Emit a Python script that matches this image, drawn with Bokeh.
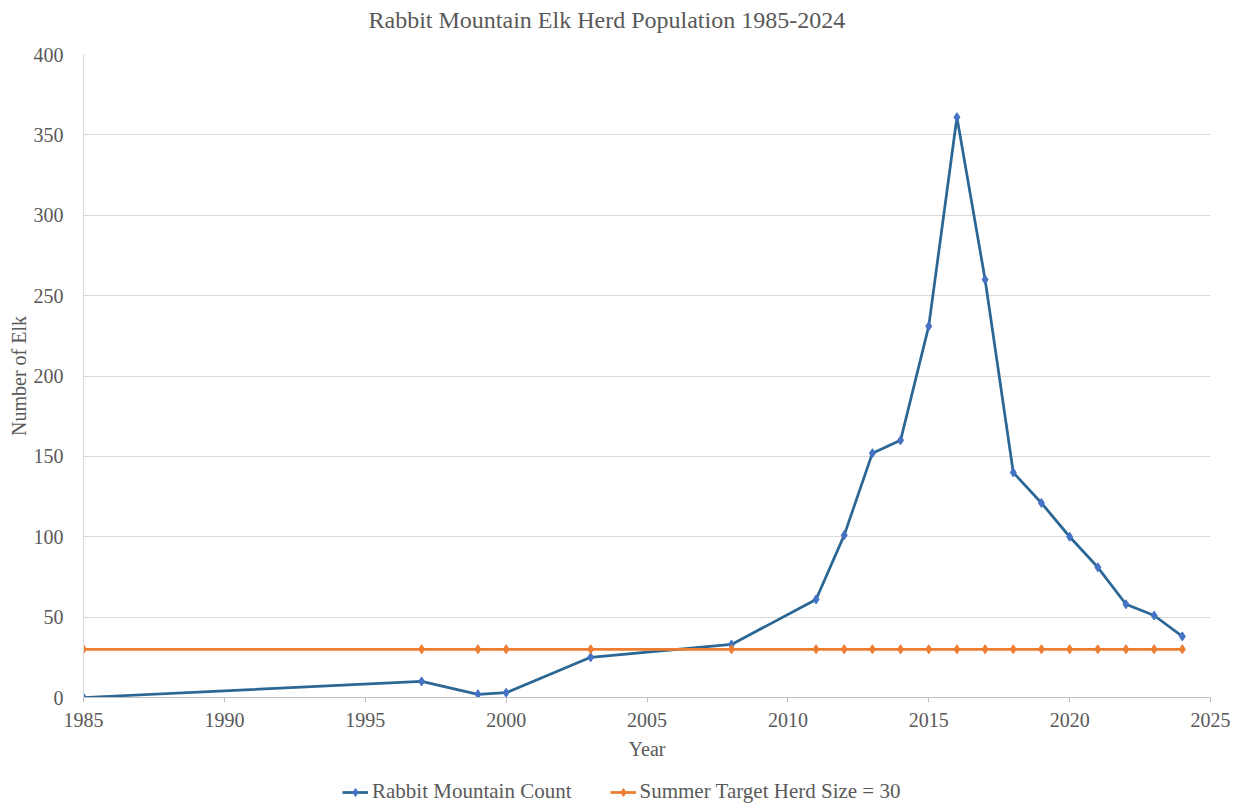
from bokeh.plotting import figure
from bokeh.models import Range1d, FixedTicker, Legend, LegendItem, Title
from bokeh.layouts import column
from bokeh.embed import file_html
from bokeh.resources import INLINE

# Survey years and herd counts
years = [1985, 1997, 1999, 2000, 2003, 2008, 2011, 2012, 2013, 2014, 2015,
         2016, 2017, 2018, 2019, 2020, 2021, 2022, 2023, 2024]
counts = [0, 10, 2, 3, 25, 33, 61, 101, 152, 160, 231,
          361, 260, 140, 121, 100, 81, 58, 51, 38]
target = [30, 30, 30, 30, 30, 30, 30, 30, 30, 30, 30,
          30, 30, 30, 30, 30, 30, 30, 30, 30]

x_ticks = [1985, 1990, 1995, 2000, 2005, 2010, 2015, 2020, 2025]
y_ticks = [0, 50, 100, 150, 200, 250, 300, 350, 400]

FONT = "Liberation Serif"
TEXT = "#595959"
BLUE_LINE = "#2B6794"
BLUE_MARK = "#4472C4"
ORANGE = "#ED7D31"

p = figure(width=1243, height=772, frame_width=1127, frame_height=643,
           output_backend="svg", toolbar_location=None,
           x_range=Range1d(1985, 2025), y_range=Range1d(0, 400),
           min_border_left=83, min_border_right=33, min_border_top=54,
           min_border_bottom=75, background_fill_color="white",
           border_fill_color="white")
p.outline_line_color = None

# blank strip between the title and the plot frame
p.add_layout(Title(text=" ", text_font_size="1px", standoff=15), "above")

p.title.text = "Rabbit Mountain Elk Herd Population 1985-2024"
p.title.text_font = FONT
p.title.text_font_size = "24px"
p.title.text_font_style = "normal"
p.title.text_color = TEXT
p.title.align = "left"
p.title.offset = 285
p.title.standoff = 8

# axes
p.xaxis.ticker = FixedTicker(ticks=x_ticks)
p.yaxis.ticker = FixedTicker(ticks=y_ticks)
for ax in (p.xaxis[0], p.yaxis[0]):
    ax.major_label_text_font = FONT
    ax.major_label_text_font_size = "20px"
    ax.major_label_text_color = TEXT
    ax.axis_label_text_font = FONT
    ax.axis_label_text_font_size = "20px"
    ax.axis_label_text_font_style = "normal"
    ax.axis_label_text_color = TEXT
    ax.minor_tick_line_color = None

p.xaxis.axis_label = "Year"
p.xaxis.axis_line_color = "#BFBFBF"
p.xaxis.major_tick_line_color = "#BFBFBF"
p.xaxis.major_tick_in = 0
p.xaxis.major_tick_out = 5
p.xaxis.major_label_standoff = 10
p.xaxis.axis_label_standoff = 8

p.yaxis.axis_label = "Number of Elk"
p.yaxis.axis_line_color = "#D9D9D9"
p.yaxis.major_tick_line_color = None
p.yaxis.major_tick_in = 0
p.yaxis.major_tick_out = 0
p.yaxis.major_label_standoff = 20
p.yaxis.axis_label_standoff = 1

p.xgrid.grid_line_color = None
p.ygrid.grid_line_color = "#D9D9D9"
p.ygrid.grid_line_width = 1


def draw_series(fig):
    """Draw both series on a figure; returns the renderers for legend items."""
    cl = fig.line(years, counts, line_color=BLUE_LINE, line_width=2.75)
    cp = fig.scatter(years, counts, marker="diamond", size=9,
                     fill_color=BLUE_MARK, line_color=BLUE_MARK)
    tl = fig.line(years, target, line_color=ORANGE, line_width=2.75)
    tp = fig.scatter(years, target, marker="diamond", size=9,
                     fill_color=ORANGE, line_color=ORANGE)
    return cl, cp, tl, tp


draw_series(p)

# legend strip under the chart: a bare figure whose view range holds no data,
# so only the legend entries show
key = figure(width=1243, height=35, output_backend="svg", toolbar_location=None,
             x_range=Range1d(0, 1), y_range=Range1d(0, 1),
             x_axis_type=None, y_axis_type=None, min_border=0,
             background_fill_color="white", border_fill_color="white")
key.outline_line_color = None
key.grid.visible = False
kcl, kcp, ktl, ktp = draw_series(key)

legend = Legend(items=[
    LegendItem(label="Rabbit Mountain Count", renderers=[kcl, kcp]),
    LegendItem(label="Summer Target Herd Size = 30", renderers=[ktl, ktp]),
], orientation="horizontal", location=(259, 3))
legend.label_text_font = FONT
legend.label_text_font_size = "21px"
legend.label_text_color = TEXT
legend.border_line_color = None
legend.background_fill_alpha = 0
legend.glyph_width = 26
legend.label_standoff = 4
legend.spacing = 38
legend.padding = 0
legend.margin = 0
key.add_layout(legend)

page = column(p, key, spacing=0)
open("out.html", "w").write(file_html(page, INLINE))
